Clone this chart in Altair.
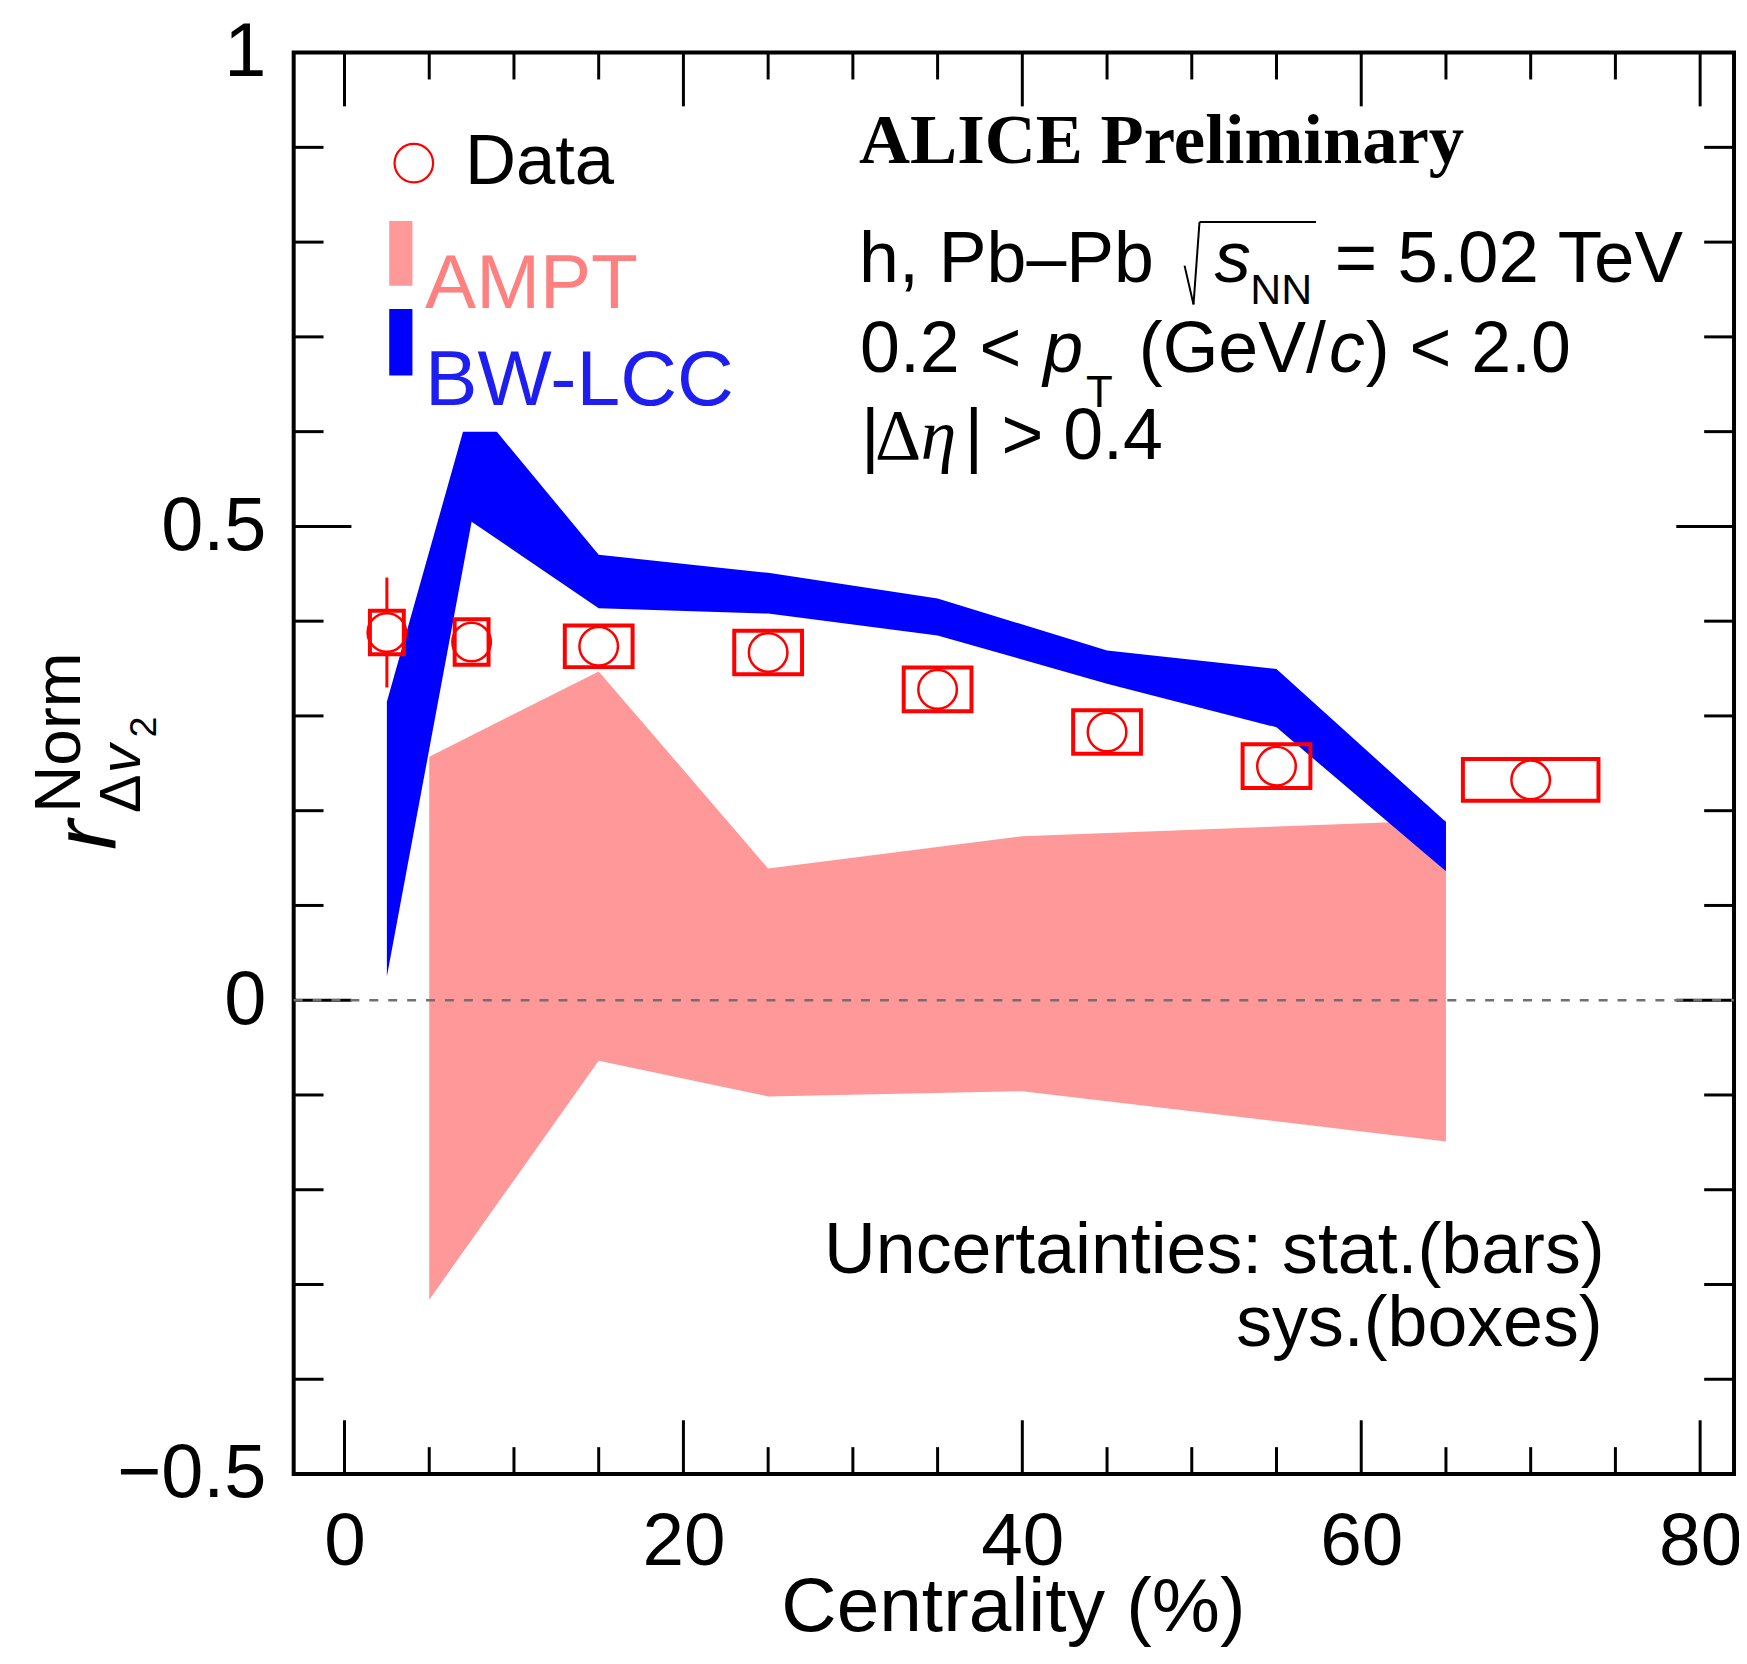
import altair as alt
import pandas as pd

# ---------------- data ----------------
centrality = [2.5, 7.5, 15, 25, 35, 45, 55, 70]
box_half_width = [1.0, 1.0, 2.0, 2.0, 2.0, 2.0, 2.0, 4.0]
r_norm = [0.388, 0.378, 0.3735, 0.367, 0.328, 0.283, 0.247, 0.2325]
stat_err = [0.058, 0.015, 0.010, 0.010, 0.010, 0.010, 0.010, 0.010]
sys_err = [0.023, 0.024, 0.022, 0.023, 0.023, 0.023, 0.023, 0.022]

bw_x = [2.5, 7.5, 15, 25, 35, 45, 55, 65]
bw_hi = [0.315, 0.632, 0.470, 0.451, 0.424, 0.369, 0.3495, 0.188]
bw_lo = [0.025, 0.505, 0.4135, 0.408, 0.385, 0.334, 0.288, 0.136]
bw_clip_level = 0.6

ampt_x = [5, 15, 25, 40, 65]
ampt_hi = [0.257, 0.347, 0.139, 0.173, 0.190]
ampt_lo = [-0.316, -0.064, -0.1015, -0.096, -0.149]

x_tick_labels = [0, 20, 40, 60, 80]
x_minor = [5, 10, 15, 25, 30, 35, 45, 50, 55, 65, 70, 75]
y_tick_labels = [-0.5, 0, 0.5, 1]
y_minor = [-0.4, -0.3, -0.2, -0.1, 0.1, 0.2, 0.3, 0.4, 0.6, 0.7, 0.8, 0.9]

# ---------------- layout ----------------
W, H = 1447, 1428
FONT = "Liberation Sans"
SERIF = "Liberation Serif"
RED = "#FF0000"
PINK = "#FF9999"
BLUE = "#0000FF"

xs = alt.Scale(domain=[-3, 82], nice=False, zero=False)
ys = alt.Scale(domain=[-0.5, 1], nice=False, zero=False)
ax_x = alt.Axis(values=x_tick_labels, title=None, ticks=False, tickSize=0, domain=False,
                grid=False, labelFont=FONT, labelFontSize=75, labelColor="black",
                labelPadding=32, format="d", labelFlush=False, labelOverlap=False)
ax_y = alt.Axis(values=y_tick_labels, title=None, ticks=False, tickSize=0, domain=False,
                grid=False, labelFont=FONT, labelFontSize=76, labelColor="black",
                labelPadding=28, format="~g", labelFlush=False, labelOverlap=False)


def X(field):
    return alt.X(field, type="quantitative", scale=xs, axis=ax_x)


def Y(field):
    return alt.Y(field, type="quantitative", scale=ys, axis=ax_y)


ONE = alt.Data(values=[{"a": 1}])


def text(t, px, py, size, color="black", font=FONT, italic=False, bold=False,
         align="left", angle=None):
    kw = dict(text=t, fontSize=size, font=font, color=color, align=align,
              baseline="alphabetic")
    if italic:
        kw["fontStyle"] = "italic"
    if bold:
        kw["fontWeight"] = "bold"
    if angle is not None:
        kw["angle"] = angle
    return alt.Chart(ONE).mark_text(**kw).encode(x=alt.value(px), y=alt.value(py))


def seg(x1, y1, x2, y2, color="black", width=2.0):
    return alt.Chart(ONE).mark_rule(color=color, strokeWidth=width).encode(
        x=alt.value(x1), y=alt.value(y1), x2=alt.value(x2), y2=alt.value(y2))


def pbox(x1, y1, x2, y2, color):
    return alt.Chart(ONE).mark_rect(color=color, opacity=1).encode(
        x=alt.value(x1), y=alt.value(y1), x2=alt.value(x2), y2=alt.value(y2))


# ---------------- tables ----------------
data = pd.DataFrame({"c": centrality, "r": r_norm, "hw": box_half_width,
                     "stat": stat_err, "sys": sys_err})
data["x0"] = data["c"] - data["hw"]
data["x1"] = data["c"] + data["hw"]
data["s0"] = data["r"] - data["sys"]
data["s1"] = data["r"] + data["sys"]
data["e0"] = data["r"] - data["stat"]
data["e1"] = data["r"] + data["stat"]

bw = pd.DataFrame({"x": bw_x, "hi": bw_hi, "lo": bw_lo})
ampt = pd.DataFrame({"x": ampt_x, "hi": ampt_hi, "lo": ampt_lo})

layers = []

# model bands
layers.append(alt.Chart(ampt).mark_area(color=PINK, opacity=1).encode(
    x=X("x"), y=Y("hi"), y2="lo"))
layers.append(alt.Chart(bw).mark_area(color=BLUE, opacity=1).encode(
    x=X("x"), y=Y("hi"), y2="lo"))
# band drawn only up to clip level (as in the original figure)
mask = pd.DataFrame({"x0": [6.5], "x1": [10.5], "y0": [bw_clip_level], "y1": [0.66]})
layers.append(alt.Chart(mask).mark_rect(color="white", opacity=1).encode(
    x=X("x0"), x2="x1", y=Y("y0"), y2="y1"))

# data: stat bars, markers, sys boxes
layers.append(alt.Chart(data).mark_rule(color=RED, strokeWidth=3).encode(
    x=X("c"), y=Y("e0"), y2="e1"))
layers.append(alt.Chart(data).mark_point(shape="circle", size=1500, filled=True,
                                         fill="white", stroke=RED, strokeWidth=2.5,
                                         opacity=1, fillOpacity=1).encode(
    x=X("c"), y=Y("r")))
layers.append(alt.Chart(data).mark_rect(fill="white", fillOpacity=0, stroke=RED,
                                        strokeWidth=4).encode(
    x=X("x0"), x2="x1", y=Y("s0"), y2="s1"))

# ticks (inward, all four sides)
for vals, ln in ((x_tick_labels, 54), (x_minor, 27)):
    d = pd.DataFrame({"v": vals})
    layers.append(alt.Chart(d).mark_rule(color="black", strokeWidth=3).encode(
        x=X("v"), y=alt.value(H), y2=alt.value(H - ln)))
    layers.append(alt.Chart(d).mark_rule(color="black", strokeWidth=3).encode(
        x=X("v"), y=alt.value(0), y2=alt.value(ln)))
for vals, ln in ((y_tick_labels, 58), (y_minor, 30)):
    d = pd.DataFrame({"v": vals})
    layers.append(alt.Chart(d).mark_rule(color="black", strokeWidth=3).encode(
        y=Y("v"), x=alt.value(0), x2=alt.value(ln)))
    layers.append(alt.Chart(d).mark_rule(color="black", strokeWidth=3).encode(
        y=Y("v"), x=alt.value(W), x2=alt.value(W - ln)))

# zero line (drawn over the ticks, as in the original)
zero = pd.DataFrame({"z": [0]})
layers.append(alt.Chart(zero).mark_rule(color="#707070", strokeWidth=2.5,
                                        strokeDash=[9, 10]).encode(
    y=Y("z"), x=alt.value(0), x2=alt.value(W)))

# legend
layers.append(alt.Chart(ONE).mark_point(shape="circle", size=1500, filled=True,
                                        fill="white", stroke=RED, strokeWidth=2.2,
                                        opacity=1).encode(
    x=alt.value(120.7), y=alt.value(111)))
layers.append(text("Data", 172, 131.7, 71))
layers.append(pbox(96, 169.3, 119.3, 234.3, PINK))
layers.append(text("AMPT", 132, 257, 77, color="#FF8080"))
layers.append(pbox(96, 257.7, 119.3, 324.3, BLUE))
layers.append(text("BW-LCC", 132, 353.7, 79, color="#1E1EF0"))

# annotations
layers.append(text("ALICE Preliminary", 568, 111, 71, font=SERIF, bold=True))
layers.append(text("h, Pb\u2013Pb", 568, 230, 72))
layers.append(seg(910, 170.3, 1027, 170.3))
layers.append(seg(910, 170.3, 904, 253))
layers.append(seg(895, 214, 904, 253))
layers.append(text("s", 925, 230, 73, italic=True))
layers.append(text("NN", 961, 252.7, 43))
layers.append(text("= 5.02 TeV", 1046, 230, 73))

layers.append(text("0.2 <", 569, 321, 72))
layers.append(text("p", 753, 321, 72, italic=True))
layers.append(text("T", 796, 356, 44))
layers.append(text("(GeV/", 849, 321, 72))
layers.append(text("c", 1040, 321, 72, italic=True))
layers.append(text(") < 2.0", 1077, 321, 72))

layers.append(text("|", 570, 408, 72))
layers.append(text("\u0394", 584, 408, 72, font=SERIF))
layers.append(text("\u03b7", 630, 408, 72, font=SERIF, italic=True))
layers.append(text("|", 674, 408, 72))
layers.append(text("> 0.4", 711, 408, 72))

layers.append(text("Uncertainties: stat.(bars)", 1317, 1226, 72, align="right"))
layers.append(text("sys.(boxes)", 1315, 1299, 72, align="right"))

# axis titles
layers.append(text("Centrality (%)", 723, 1586, 77, align="center"))
layers.append(text("r", -180, 801, 90, italic=True, angle=270))
layers.append(text("Norm", -215, 764, 66, angle=270))
layers.append(text("\u0394", -154, 764, 58, angle=270))
layers.append(text("v", -154, 724, 58, italic=True, angle=270))
layers.append(text("2", -138, 688, 38, angle=270))

chart = alt.layer(*layers).properties(
    width=W, height=H,
    autosize=alt.AutoSizeParams(type="none"),
    padding={"left": 287, "top": 41, "right": 5, "bottom": 174},
    background="white",
).configure_view(stroke="black", strokeWidth=4)

chart.save("out.html", embed_options={"renderer": "svg", "actions": False})
